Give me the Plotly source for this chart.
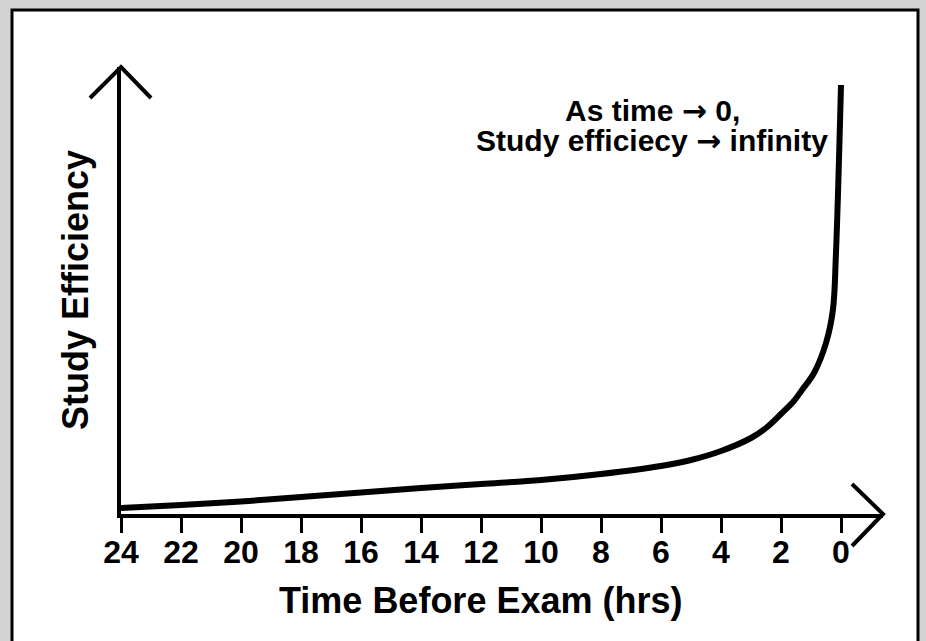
import plotly.graph_objects as go

# Data (hours before exam vs. study efficiency, arbitrary units)
hours = [24, 22, 20, 18, 16, 14, 12, 10, 8, 6, 5, 4, 3, 2.5, 2.0, 1.57, 1.3, 0.9, 0.5, 0.27, 0.17, 0.0]
efficiency = [6, 9, 12.5, 17, 21.5, 26, 30, 34, 40, 48, 54, 63, 76, 86, 100, 113, 124, 141, 171, 204, 259, 429]
tick_vals = [24, 22, 20, 18, 16, 14, 12, 10, 8, 6, 4, 2, 0]
tick_text = [str(v) for v in tick_vals]

W, H = 926, 641
L, R, T, B = 121, 43, 67, 127
pw, ph = W - L - R, H - T - B

def px(xp):
    return (xp - L) / pw

def py(yp):
    return (H - B - yp) / ph

FONT = "Liberation Sans, Arial, Helvetica, sans-serif"
ARROW = '<span style="font-family:DejaVu Sans">→</span>'

fig = go.Figure()
fig.add_trace(go.Scatter(
    x=hours, y=efficiency, mode="lines",
    line=dict(color="black", width=6, shape="spline", smoothing=1.0),
    hoverinfo="skip", showlegend=False,
))

shapes = [
    # white panel with black border
    dict(type="rect", xref="paper", yref="paper", x0=px(12), x1=px(918), y0=py(665), y1=py(10),
         fillcolor="white", line=dict(color="black", width=3), layer="below"),
    # y-axis arrowhead
    dict(type="path", xref="paper", yref="paper",
         path=f"M {px(90)},{py(98)} L {px(121)},{py(67)} L {px(151)},{py(98)}",
         line=dict(color="black", width=4)),
    # x-axis arrowhead
    dict(type="path", xref="paper", yref="paper",
         path=f"M {px(852)},{py(484)} L {px(883)},{py(514)} L {px(852)},{py(546)}",
         line=dict(color="black", width=4)),
]

annotations = [
    dict(xref="paper", yref="paper", x=px(652), y=py(110), text=f"As time {ARROW} 0,",
         showarrow=False, font=dict(family=FONT, size=30, color="black", weight="bold"),
         xanchor="center", yanchor="middle"),
    dict(xref="paper", yref="paper", x=px(652), y=py(141), text=f"Study efficiecy {ARROW} infinity",
         showarrow=False, font=dict(family=FONT, size=30, color="black", weight="bold"),
         xanchor="center", yanchor="middle"),
    dict(xref="paper", yref="paper", x=px(480), y=py(600), text="Time Before Exam (hrs)",
         showarrow=False, font=dict(family=FONT, size=36, color="black", weight="bold"),
         xanchor="center", yanchor="middle"),
    dict(xref="paper", yref="paper", x=px(75), y=py(290), text="Study Efficiency",
         showarrow=False, textangle=-90, font=dict(family=FONT, size=36, color="black", weight="bold"),
         xanchor="center", yanchor="middle"),
]

fig.update_layout(
    width=W, height=H,
    margin=dict(l=L, r=R, t=T, b=B),
    paper_bgcolor="#d3d3d3",
    plot_bgcolor="rgba(0,0,0,0)",
    shapes=shapes,
    annotations=annotations,
    xaxis=dict(range=[24, 24 - pw / 30.0], tickvals=tick_vals, ticktext=tick_text,
               showgrid=False, zeroline=False, showline=True, linecolor="black", linewidth=4,
               ticks="outside", ticklen=15, tickwidth=3, tickcolor="black", ticklabelstandoff=-8,
               tickfont=dict(family=FONT, size=32, color="black", weight="bold")),
    yaxis=dict(range=[0, ph], showgrid=False, zeroline=False, showline=True, linecolor="black",
               linewidth=4, showticklabels=False, ticks=""),
)

fig.write_html("out.html", config={"displayModeBar": False},
               post_script="document.body.style.margin='0';document.body.style.overflow='hidden';")
